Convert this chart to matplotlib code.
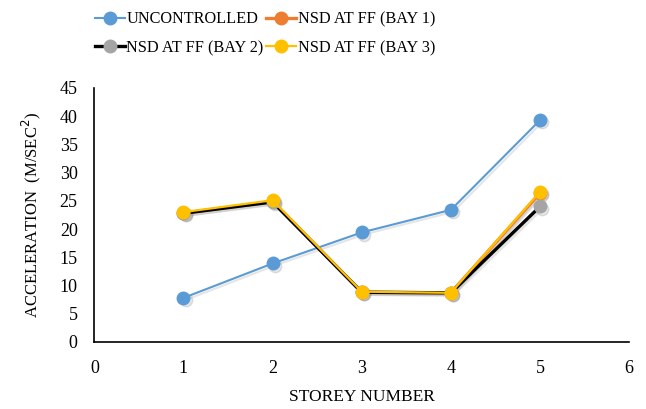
import matplotlib
matplotlib.use("Agg")
import matplotlib.pyplot as plt
import matplotlib.transforms as mtransforms

storey = [1, 2, 3, 4, 5]
uncontrolled = [7.8, 13.9, 19.4, 23.4, 39.3]
bay1 = [22.8, 24.9, 8.8, 8.7, 26.4]
bay2 = [22.8, 24.8, 8.8, 8.7, 24.0]
bay3 = [23.0, 25.1, 8.9, 8.7, 26.6]

plt.rcParams['font.family'] = ['Liberation Serif', 'DejaVu Serif']

fig = plt.figure(figsize=(6.46, 4.09), dpi=100)
ax = fig.add_axes([0.146, 0.164, 0.828, 0.621])

series = [
    ("UNCONTROLLED", uncontrolled, '#5B9BD5', '#5B9BD5', 1.5),
    ("NSD AT FF (BAY 1)", bay1, '#ED7D31', '#ED7D31', 2.4),
    ("NSD AT FF (BAY 2)", bay2, '#000000', '#A5A5A5', 2.4),
    ("NSD AT FF (BAY 3)", bay3, '#FFC000', '#FFC000', 1.6),
]
shadow_tr = ax.transData + mtransforms.ScaledTranslation(1.5 / 72, -1.5 / 72, fig.dpi_scale_trans)
handles = {}
for name, vals, lc, mc, lw in series:
    ax.plot(storey, vals, color='#999999', lw=lw, marker='o', markersize=9,
            markerfacecolor='#999999', markeredgecolor='#999999', alpha=0.25,
            transform=shadow_tr, zorder=1)
    h, = ax.plot(storey, vals, color=lc, lw=lw, marker='o', markersize=9,
                 markerfacecolor=mc, markeredgecolor=mc, label=name, zorder=2)
    handles[name] = h

ax.set_xlim(0, 6)
ax.set_ylim(0, 45)
ax.set_xticks(range(0, 7))
ax.set_yticks(range(0, 46, 5))
for s in ['top', 'right']:
    ax.spines[s].set_visible(False)
for s in ['left', 'bottom']:
    ax.spines[s].set_color('black')
    ax.spines[s].set_linewidth(1.2)
ax.tick_params(axis='x', length=0, labelsize=13, pad=13)
ax.tick_params(axis='y', length=0, labelsize=13, pad=12)
ax.set_xlabel("STOREY NUMBER", fontsize=12.5, labelpad=9)
ax.set_ylabel("ACCELERATION  (M/SEC$^2$)", fontsize=12, labelpad=12)

order = ["UNCONTROLLED", "NSD AT FF (BAY 2)", "NSD AT FF (BAY 1)", "NSD AT FF (BAY 3)"]
fig.legend([handles[k] for k in order], order, loc='upper center',
           bbox_to_anchor=(0.41, 1.008), ncol=2, frameon=False,
           fontsize=11.7, handlelength=1.85, columnspacing=0.15, handletextpad=0.1,
           labelspacing=0.78)

fig.savefig("out.png", dpi=100)
